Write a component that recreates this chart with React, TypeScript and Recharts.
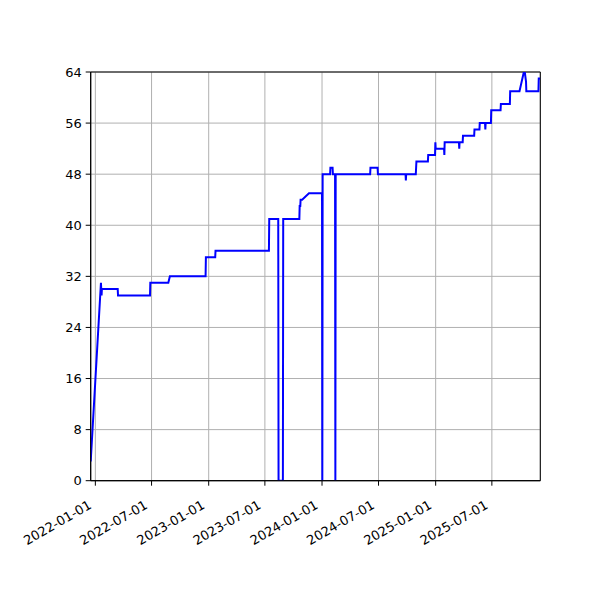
import { LineChart, Line, XAxis, YAxis, CartesianGrid, ReferenceArea } from 'recharts';

// change points of the step line
const pointDates = [
  '2021-12-17', '2022-01-19', '2022-01-21', '2022-01-22', '2022-03-14', '2022-03-15',
  '2022-06-26', '2022-06-27', '2022-08-24', '2022-08-29', '2022-12-22', '2022-12-23',
  '2023-01-22', '2023-01-23', '2023-07-14', '2023-07-15', '2023-08-13', '2023-08-14',
  '2023-08-28', '2023-08-29', '2023-10-20', '2023-10-21', '2023-10-23', '2023-10-24',
  '2023-10-29', '2023-11-20', '2024-01-01', '2024-01-02', '2024-01-03', '2024-01-27',
  '2024-01-28', '2024-02-04', '2024-02-05', '2024-02-12', '2024-02-13', '2024-02-14',
  '2024-06-04', '2024-06-05', '2024-06-28', '2024-06-29', '2024-09-26', '2024-09-27',
  '2024-09-28', '2024-10-29', '2024-10-31', '2024-12-07', '2024-12-08', '2024-12-30',
  '2024-12-31', '2025-01-01', '2025-01-28', '2025-01-29', '2025-01-30', '2025-03-17',
  '2025-03-18', '2025-03-19', '2025-03-29', '2025-03-30', '2025-05-05', '2025-05-06',
  '2025-05-22', '2025-05-23', '2025-06-09', '2025-06-10', '2025-06-11', '2025-06-28',
  '2025-06-29', '2025-07-29', '2025-07-30', '2025-08-28', '2025-08-29', '2025-09-28',
  '2025-10-12', '2025-10-15', '2025-10-19', '2025-10-20', '2025-11-28', '2025-11-29',
  '2025-12-04',
];
const pointValues = [
  3, 31, 29, 30, 30, 29,
  29, 31, 31, 32, 32, 35,
  35, 36, 36, 41, 41, 0,
  0, 41, 41, 43, 43, 44,
  44, 45, 45, 0, 48, 48,
  49, 49, 48, 48, 0, 48,
  48, 49, 49, 48, 48, 47,
  48, 48, 50, 50, 51, 51,
  53, 52, 52, 51, 53, 53,
  52, 53, 53, 54, 54, 55,
  55, 56, 56, 55, 56, 56,
  58, 58, 59, 59, 61, 61,
  64, 64, 62.5, 61, 61, 63,
  63,
];

const xTickDates = [
  '2022-01-01', '2022-07-01', '2023-01-01', '2023-07-01',
  '2024-01-01', '2024-07-01', '2025-01-01', '2025-07-01',
];
const yTicks = [0, 8, 16, 24, 32, 40, 48, 56, 64];
const xStart = '2021-12-17';
const xEnd = '2025-12-04';

const toTime = (d: string) => Date.parse(d + 'T00:00:00Z');
const fmt = (t: number) => new Date(t).toISOString().slice(0, 10);

const data = pointDates.map((d, i) => ({ t: toTime(d), value: pointValues[i] }));
const xDomain = [toTime(xStart), toTime(xEnd)];

function DateTick({ x, y, payload }: any) {
  const tx = x - 3;
  const ty = y + 22;
  return (
    <text
      x={tx}
      y={ty}
      transform={`rotate(-30, ${tx}, ${ty})`}
      textAnchor="end"
      fontSize={13}
      fontFamily="DejaVu Sans"
      fill="#000"
    >
      {fmt(payload.value)}
    </text>
  );
}

export default function App() {
  return (
    <div style={{ position: 'absolute', left: 0, top: 0, width: 600, height: 600, background: '#fff' }}>
      <LineChart
        width={600}
        height={600}
        data={data}
        margin={{ top: 72, right: 59.7, bottom: 59.3, left: 30.7 }}
      >
        <CartesianGrid stroke="#b0b0b0" strokeWidth={1} />
        <XAxis
          dataKey="t"
          type="number"
          scale="time"
          domain={xDomain}
          allowDataOverflow
          ticks={xTickDates.map(toTime)}
          height={60}
          tickSize={5}
          tickMargin={0}
          tickLine={{ stroke: '#000' }}
          axisLine={{ stroke: '#000' }}
          tick={<DateTick />}
          interval={0}
        />
        <YAxis
          type="number"
          domain={[0, 64]}
          allowDataOverflow
          ticks={yTicks}
          width={60}
          tickSize={5}
          tickMargin={4}
          tickLine={{ stroke: '#000' }}
          axisLine={{ stroke: '#000' }}
          tick={{ fill: '#000', fontSize: 13, fontFamily: 'DejaVu Sans' }}
          interval={0}
        />
        <Line
          type="linear"
          dataKey="value"
          stroke="#0000ff"
          strokeWidth={2}
          dot={false}
          isAnimationActive={false}
        />
        <ReferenceArea
          x1={xDomain[0]}
          x2={xDomain[1]}
          y1={0}
          y2={64}
          fill="none"
          stroke="#000"
          strokeWidth={1}
        />
      </LineChart>
    </div>
  );
}
